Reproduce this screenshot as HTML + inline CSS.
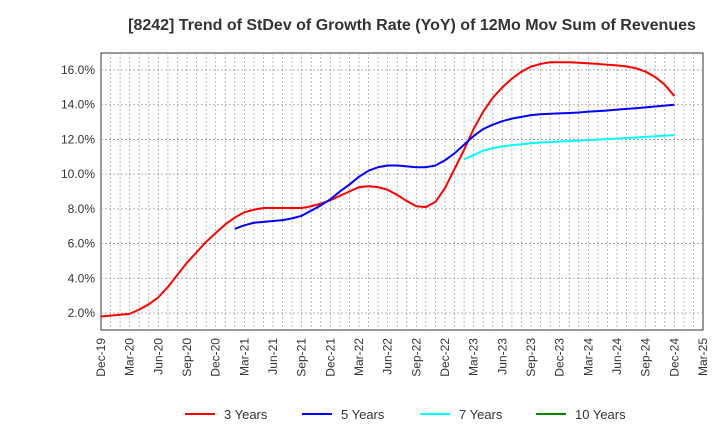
<!DOCTYPE html>
<html><head><meta charset="utf-8"><style>
body{margin:0;background:#fff;font-family:"Liberation Sans",sans-serif;}
svg text{font-family:"Liberation Sans",sans-serif;}
</style></head><body>
<svg id="c" width="720" height="440" xmlns="http://www.w3.org/2000/svg">
<text x="412" y="30" text-anchor="middle" font-size="16" font-weight="bold" fill="#333">[8242]  Trend of StDev of Growth Rate (YoY) of 12Mo Mov Sum of Revenues</text>
<rect x="101" y="53" width="602" height="277" fill="#fff" stroke="#333" stroke-width="1"/>
<g id="grid"></g><g id="series"></g><g id="axes"></g><g id="legend"></g>
</svg>
<script>
const xLabels=["Dec-19","Mar-20","Jun-20","Sep-20","Dec-20","Mar-21","Jun-21","Sep-21","Dec-21","Mar-22","Jun-22","Sep-22","Dec-22","Mar-23","Jun-23","Sep-23","Dec-23","Mar-24","Jun-24","Sep-24","Dec-24","Mar-25"];
const yTicks=[2,4,6,8,10,12,14,16];
const s3=[1.8,1.85,1.9,1.95,2.2,2.5,2.9,3.5,4.2,4.9,5.5,6.1,6.6,7.1,7.5,7.8,7.95,8.05,8.05,8.05,8.05,8.05,8.15,8.3,8.5,8.75,9.0,9.25,9.3,9.25,9.1,8.8,8.45,8.15,8.1,8.4,9.2,10.3,11.4,12.6,13.6,14.4,15.0,15.5,15.9,16.2,16.35,16.45,16.45,16.45,16.42,16.38,16.35,16.3,16.27,16.2,16.1,15.9,15.6,15.15,14.5];
const s5Start=14;
const s5=[6.85,7.05,7.2,7.25,7.3,7.35,7.45,7.6,7.9,8.2,8.55,9.0,9.4,9.85,10.2,10.4,10.5,10.5,10.45,10.4,10.4,10.5,10.8,11.2,11.7,12.2,12.6,12.85,13.05,13.2,13.3,13.4,13.45,13.48,13.5,13.52,13.55,13.6,13.63,13.67,13.72,13.76,13.8,13.85,13.9,13.95,14.0];
const s7Start=38;
const s7=[10.85,11.1,11.35,11.5,11.6,11.67,11.72,11.78,11.82,11.85,11.88,11.9,11.93,11.96,11.99,12.02,12.05,12.08,12.11,12.15,12.18,12.22,12.25];
const s10Start=0;
const s10=[];
const L=101,R=703,T=53,B=330,yMin=1.02,yMax=16.98,nM=63;
const X=m=>L+(R-L)*m/nM;
const Y=v=>B-(B-T)*(v-yMin)/(yMax-yMin);
const NS="http://www.w3.org/2000/svg";
function mk(t,a,p){const e=document.createElementNS(NS,t);for(const k in a)e.setAttribute(k,a[k]);p.appendChild(e);return e;}
const g=document.getElementById('grid');
for(let m=1;m<nM;m++){const l=mk('line',{x1:X(m),x2:X(m),y1:T,y2:B,stroke:'#aaa','stroke-dasharray':'2,2','stroke-width':0.8},g);

}
const ax=document.getElementById('axes');
yTicks.forEach(v=>{const l=mk('line',{x1:L,x2:R,y1:Y(v),y2:Y(v),stroke:'#999','stroke-dasharray':'2,2','stroke-width':0.8},g);


const t=mk('text',{x:L-6,y:Y(v)+4,'text-anchor':'end','font-size':12,fill:'#333'},ax);t.textContent=v.toFixed(1)+'%';

});
xLabels.forEach((s,i)=>{const x=X(i*3);const t=mk('text',{x:x+4,y:338,'text-anchor':'end','font-size':12,fill:'#333',transform:`rotate(-90 ${x+4} 338)`},ax);t.textContent=s;

});
const sg=document.getElementById('series');
function line(arr,start,col,name){if(!arr.length)return;const p=mk('polyline',{points:arr.map((v,i)=>X(start+i)+','+Y(v)).join(' '),fill:'none',stroke:col,'stroke-width':2,'stroke-linejoin':'round'},sg);

}
line(s3,0,'#f00','series-3-years');
line(s5,s5Start,'#00f','series-5-years');
line(s7,s7Start,'#0ff','series-7-years');
line(s10,s10Start,'#080','series-10-years');
const lg=document.getElementById('legend');
[['3 Years','#f00',185],['5 Years','#00f',302],['7 Years','#0ff',420],['10 Years','#080',536]].forEach(([n,c,x])=>{
const e=mk('g',{},lg);


mk('line',{x1:x,x2:x+30,y1:414,y2:414,stroke:c,'stroke-width':2},e);
const t=mk('text',{x:x+39,y:419,'font-size':13,fill:'#333'},e);t.textContent=n;});
</script>
</body></html>
